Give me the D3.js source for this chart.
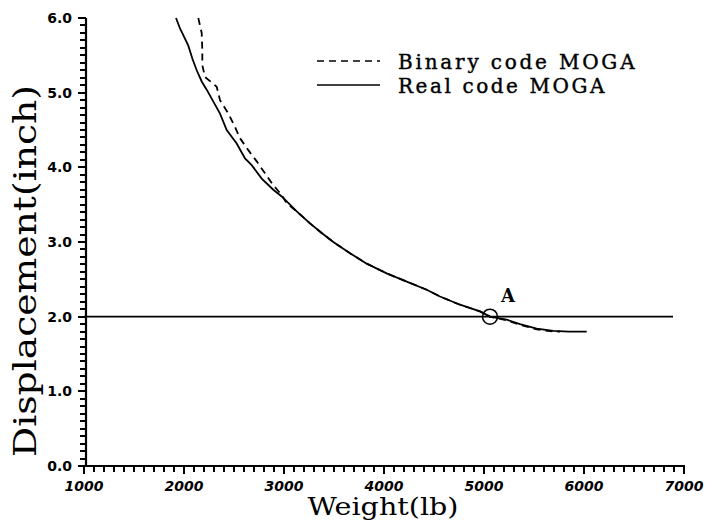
<!DOCTYPE html>
<html>
<head>
<meta charset="utf-8">
<script src="https://cdn.jsdelivr.net/npm/d3@7"></script>
<style>
body { margin: 0; background: #fff; }
</style>
</head>
<body>
<div id="chart"></div>
<script>
// Real code MOGA (solid)
var realW = [1920, 1960, 2000, 2043, 2085, 2127, 2177, 2227, 2277, 2360, 2427, 2527, 2610, 2677, 2777, 2893, 2977, 3060, 3127, 3260, 3377, 3493, 3660, 3827, 4027, 4227, 4427, 4560, 4760, 4960, 5060, 5227, 5360, 5527, 5693, 5850, 6027];
var realD = [6.00, 5.86, 5.75, 5.63, 5.45, 5.30, 5.15, 5.04, 4.92, 4.72, 4.50, 4.32, 4.12, 4.03, 3.85, 3.70, 3.61, 3.50, 3.41, 3.25, 3.12, 3.00, 2.85, 2.71, 2.58, 2.47, 2.36, 2.27, 2.16, 2.07, 2.00, 1.96, 1.90, 1.84, 1.81, 1.80, 1.80];

// Binary code MOGA (dashed)
var binW = [2143, 2177, 2183, 2183, 2210, 2327, 2360, 2443, 2510, 2560, 2643, 2727, 2810, 2893, 2977, 3027, 3127, 3260, 3377, 3493, 3660, 3827, 4027, 4227, 4427, 4560, 4760, 4960, 5060, 5227, 5360, 5527, 5693, 5760];
var binD = [6.00, 5.80, 5.57, 5.37, 5.21, 5.08, 4.90, 4.72, 4.54, 4.39, 4.23, 4.08, 3.92, 3.76, 3.63, 3.52, 3.41, 3.25, 3.12, 3.00, 2.85, 2.71, 2.58, 2.47, 2.36, 2.27, 2.16, 2.07, 2.00, 1.95, 1.89, 1.83, 1.80, 1.80];

var xTicks = [1000, 2000, 3000, 4000, 5000, 6000, 7000];
var yTicks = [0, 1, 2, 3, 4, 5, 6];
var limitD = 2.0;
var limitW = [1000, 6890];
var pointA = [5060, 2.0];
var legendNames = ["Binary code MOGA", "Real code MOGA"];

const width = 706, height = 529;

const svg = d3.select('#chart').append('svg')
    .attr('width', width)
    .attr('height', height);

const x = d3.scaleLinear().domain([1000, 7000]).range([84, 684]);
const y = d3.scaleLinear().domain([0, 6]).range([466, 18]);

const axisY0 = 466, axisX0 = 86;

// minor + major ticks as one path per axis
const xMinor = d3.range(1000, 7001, 100);
const yMinor = d3.range(0, 61, 1).map(d => d / 10);

const xTickPath = d3.path();
xMinor.forEach(function (d) {
    xTickPath.moveTo(Math.round(x(d)), axisY0);
    xTickPath.lineTo(Math.round(x(d)), axisY0 + (d % 1000 === 0 ? 8 : 6));
});
svg.append('path')
    .attr('d', xTickPath.toString())
    .attr('fill', 'none').attr('stroke', '#000').attr('stroke-width', 2);

const yTickPath = d3.path();
yMinor.forEach(function (d) {
    yTickPath.moveTo(axisX0, Math.round(y(d)));
    yTickPath.lineTo(axisX0 - (Math.round(d * 10) % 10 === 0 ? 8 : 6), Math.round(y(d)));
});
svg.append('path')
    .attr('d', yTickPath.toString())
    .attr('fill', 'none').attr('stroke', '#000').attr('stroke-width', 2);

// axis lines
svg.append('path')
    .attr('d', `M${axisX0},${y(6)}V${axisY0}H${x(7000) + 1}`)
    .attr('fill', 'none').attr('stroke', '#000').attr('stroke-width', 2.2);

// tick labels
svg.append('g').selectAll('text')
    .data(xTicks)
    .join('text')
    .attr('x', d => x(d)).attr('y', 491)
    .attr('text-anchor', 'middle')
    .attr('font-family', 'DejaVu Sans')
    .attr('font-weight', 'bold')
    .attr('font-style', 'italic')
    .attr('font-size', 14)
    .text(d3.format('d'));

svg.append('g').selectAll('text')
    .data(yTicks)
    .join('text')
    .attr('x', 72).attr('y', d => y(d) + 5)
    .attr('text-anchor', 'end')
    .attr('font-family', 'DejaVu Sans')
    .attr('font-weight', 'bold')
    .attr('font-size', 14)
    .text(d3.format('.1f'));

// axis titles
svg.append('text')
    .attr('x', 383).attr('y', 515)
    .attr('text-anchor', 'middle')
    .attr('font-family', 'DejaVu Serif')
    .attr('font-size', 24)
    .attr('textLength', 151).attr('lengthAdjust', 'spacingAndGlyphs')
    .text('Weight(lb)');

svg.append('text')
    .attr('transform', 'translate(36,271) rotate(-90)')
    .attr('text-anchor', 'middle')
    .attr('font-family', 'DejaVu Serif')
    .attr('font-size', 31)
    .attr('textLength', 372).attr('lengthAdjust', 'spacingAndGlyphs')
    .text('Displacement(inch)');

// constraint line
svg.append('line')
    .attr('x1', x(limitW[0])).attr('x2', x(limitW[1]))
    .attr('y1', y(limitD)).attr('y2', y(limitD))
    .attr('stroke', '#000').attr('stroke-width', 1.8);

const line = d3.line()
    .x(d => x(d[0]))
    .y(d => y(d[1]));

svg.append('path')
    .attr('d', line(d3.zip(binW, binD)))
    .attr('fill', 'none')
    .attr('stroke', '#000')
    .attr('stroke-width', 1.8)
    .attr('stroke-dasharray', '7,5');

svg.append('path')
    .attr('d', line(d3.zip(realW, realD)))
    .attr('fill', 'none')
    .attr('stroke', '#000')
    .attr('stroke-width', 1.8);

// point A
svg.append('circle')
    .attr('cx', x(pointA[0])).attr('cy', y(pointA[1]))
    .attr('r', 7.5)
    .attr('fill', 'none')
    .attr('stroke', '#000')
    .attr('stroke-width', 1.5);
svg.append('text')
    .attr('x', x(pointA[0]) + 18).attr('y', y(pointA[1]) - 15)
    .attr('text-anchor', 'middle')
    .attr('font-family', 'DejaVu Serif')
    .attr('font-weight', 'bold')
    .attr('font-size', 18)
    .text('A');

// legend
const legend = svg.append('g');
legendNames.forEach(function (name, i) {
    var ly = 61 + i * 24;
    legend.append('line')
        .attr('x1', 317).attr('x2', 380)
        .attr('y1', ly).attr('y2', ly)
        .attr('stroke', '#000')
        .attr('stroke-width', 1.6)
        .attr('stroke-dasharray', i === 0 ? '7,5' : null);
    legend.append('text')
        .attr('x', 398).attr('y', ly + 8)
        .attr('font-family', 'DejaVu Serif')
        .attr('font-size', 20)
        .attr('stroke', '#000').attr('stroke-width', 0.4)
        .attr('textLength', name.length * 15.1 - 5).attr('lengthAdjust', 'spacing')
        .text(name);
});
</script>
</body>
</html>
